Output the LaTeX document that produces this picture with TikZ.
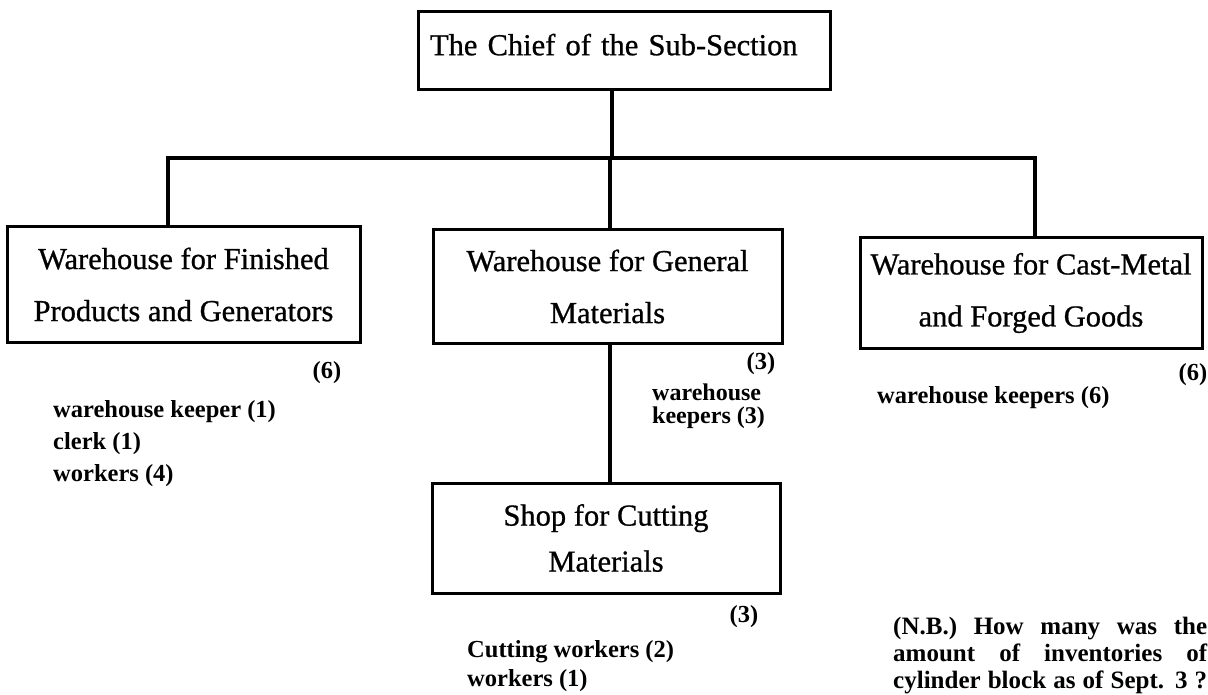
\documentclass[tikz,border=0pt]{standalone}
\usepackage{fontspec}
\setmainfont{Liberation Serif}
\newfontfamily\boxfont[FakeBold=0.8]{Liberation Serif}
\begin{document}
\begin{tikzpicture}[x=1pt,y=-1pt,
  orgbox/.style={draw, line width=3pt, inner sep=0pt, align=center, font=\boxfont\fontsize{30.5}{52}\selectfont},
  conn/.style={line width=3.4pt},
  lbl/.style={inner sep=0pt, font=\bfseries\fontsize{24.5}{32}\selectfont},
]
\useasboundingbox (0,0) rectangle (1208,695);
\node[draw, line width=3pt, inner ysep=0pt, inner xsep=12pt, text width=388pt, align=left, font=\boxfont\fontsize{30.5}{52}\selectfont, minimum height=78pt, text depth=13pt] (chief) at (624,51) {The Chief of the Sub-Section};
\node[orgbox, minimum width=353pt, minimum height=115pt] (fin) at (183.5,284.5) {Warehouse for Finished\\Products and Generators};
\node[orgbox, minimum width=349pt, minimum height=113pt] (gen) at (607.5,286.5) {Warehouse for General\\Materials};
\node[orgbox, minimum width=342pt, minimum height=110pt] (cast) at (1031,293) {Warehouse for Cast-Metal\\and Forged Goods};
\node[orgbox, minimum width=348pt, minimum height=110pt, font=\boxfont\fontsize{30.5}{46}\selectfont] (shop) at (606,538) {Shop for Cutting\\Materials};

\coordinate (busL) at (168,158);
\coordinate (busR) at (1035,158);
\draw[conn] (busL |- fin.north) -- (busL) -- (busR) -- (busR |- cast.north);
\draw[conn] ([xshift=-12pt]chief.south) -- ([xshift=-12pt]chief.south |- busL);
\draw[conn] ([xshift=2.5pt]gen.north |- busL) -- ([xshift=2.5pt]gen.north);
\draw[conn] ([xshift=2.5pt]gen.south) -- ([xshift=2.5pt]gen.south |- shop.north);

\node[lbl] (finN) at (327,373) {(6)};
\node[lbl, anchor=north west, align=left] (finL) at (53,400.5) {warehouse keeper (1)\\clerk (1)\\workers (4)};
\node[lbl] (genN) at (761,364) {(3)};
\node[lbl, anchor=north west, align=left, font=\bfseries\fontsize{24}{23}\selectfont] (genL) at (652,384) {warehouse\\keepers (3)};
\node[lbl] (castN) at (1193,375) {(6)};
\node[lbl, anchor=west] (castL) at (877,398) {warehouse keepers (6)};
\node[lbl] (shopN) at (744,617) {(3)};
\node[lbl, anchor=north west, align=left, font=\bfseries\fontsize{24.5}{29}\selectfont] (shopL) at (467,640.5) {Cutting workers (2)\\workers (1)};
\node[lbl, anchor=north west, align=justify, text width=314pt, font=\bfseries\fontsize{25}{27}\selectfont] (nb) at (893,616.5) {(N.B.) How many was the\linebreak amount of inventories of\linebreak \makebox[314pt][s]{cylinder block as of Sept. 3 ?}};
\end{tikzpicture}
\end{document}
